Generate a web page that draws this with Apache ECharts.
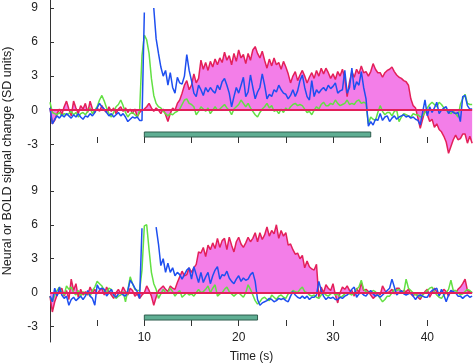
<!DOCTYPE html>
<html><head><meta charset="utf-8">
<script src="https://cdn.jsdelivr.net/npm/echarts@6/dist/echarts.min.js"></script>
<style>html,body{margin:0;padding:0;background:#fff}#c{width:475px;height:364px}</style>
</head><body><div id="c"></div>
<script>
// sampling step of the time series (s)
const step = 0.25;

// ---- top panel (long stimulus) ----
const topRed = [
 0.2,-1.2,-0.9,-0.3, 0.1,-0.4,0.3,0.8, 0.1,-0.5,0.8,0.2, -0.3,0.4,0.1,0.6, -0.2,0.8,0.1,-0.2, 0.2,-0.1,0.4,0.0, -0.2,0.3,-0.1,0.2, -0.3,0.1,0.3,-0.1, 0.2,-0.2,0.1,-0.3, 0.1,-0.6,-0.2,0.0,
 0.1,0.3,0.6,0.2, -0.1,0.2,0.0,-0.3, 0.1,-0.4,-1.0,-0.3, 0.2,0.0,0.6,0.9, 1.5,2.2,2.6,1.8, 2.2,3.2,2.4,2.8, 4.4,3.6,4.2,3.5, 4.3,3.8,4.5,4.0, 4.6,4.2,5.1,4.4, 4.8,4.0,5.0,4.3,
 5.3,4.6,4.9,4.1, 5.0,4.4,5.3,5.6, 5.0,4.6,5.2,4.4, 3.7,4.5,3.9,4.6, 4.0,4.2,3.6,4.3, 3.8,3.2,2.4,3.0, 3.4,2.6,3.1,3.5, 3.0,2.4,2.9,3.3, 2.8,3.5,3.0,3.7, 3.2,3.7,3.3,2.8,
 3.2,2.7,3.4,3.0, 3.6,2.8,1.2,2.5, 3.4,2.9,3.6,3.2, 3.9,3.3,3.4,3.0, 3.4,4.1,3.6,3.3, 3.3,2.9,3.3,3.5, 3.6,3.8,3.4,3.1, 2.9,2.8,2.6,2.5, 2.2,1.0,0.4,0.2, -0.7,-1.6,-0.8,0.0,
 -0.4,-1.0,-0.8,-1.5, -1.2,-1.7,-1.9,-2.3, -2.8,-3.8,-3.2,-2.6, -2.2,-2.6,-2.5,-2.1, -2.1,-2.9,-2.3,-2.9
];
const topBlue = [
 0.2,-1.2,-0.8,-0.5, -0.7,-0.4,-0.6,-0.3, -0.5,-0.7,-0.4,-0.6, -0.3,-0.6,-0.8,-0.5, -0.6,-0.3,-0.5,-0.2, 0.2,0.6,0.3,0.1, -0.2,-0.5,-0.3,-0.6, -0.4,-0.2,-0.5,-0.3, -0.6,-1.0,-0.8,-0.6, -0.7,-0.6,-0.9,-0.9,
 8.6,null,null,null, 9.0,6.3,5.0,3.8, 3.0,3.5,2.2,3.3, 2.0,1.5,2.9,2.4, 2.3,3.0,4.9,3.5, 2.6,1.5,1.2,2.2, 1.8,1.3,2.0,1.6, 2.0,1.7,1.5,2.2, 1.8,2.5,2.8,2.2, 1.5,0.3,1.2,2.0,
 1.5,2.2,2.9,1.2, 1.6,3.1,2.0,1.0, 1.6,2.0,3.2,2.2, 1.0,1.4,1.2,1.8, 1.6,2.2,1.8,1.5, 1.4,1.0,1.3,1.8, 1.2,1.7,2.6,3.1, 2.0,1.2,0.9,2.6, 1.2,1.8,1.5,1.8, 2.0,1.7,2.2,1.9,
 2.1,2.4,1.5,1.7, 1.8,3.5,1.5,2.0, 3.7,1.8,2.5,2.2, 3.4,2.0,1.0,-1.4, -1.0,-1.3,-0.8,-0.9, -0.3,-0.9,-0.6,-0.5, -1.0,-0.7,-0.5,-0.8, -0.6,-0.5,-0.4,-0.6, -0.5,-0.7,-0.6,-0.8, -0.9,-1.3,-0.2,0.9,
 -0.5,0.3,-0.2,0.2, 0.7,-0.3,0.0,0.2, 0.3,-0.3,0.0,-0.2, -0.3,-0.2,-1.0,1.2, 1.3,0.4,0.1,0.1
];
const topGreen = [
 0.7,-0.2,-0.3,-0.4, -0.2,-0.5,-0.3,-0.4, -0.3,-0.1,-0.4,-0.2, -0.6,-0.3,-0.2,-0.4, -0.1,0.2,-0.3,0.0, 0.3,0.9,1.3,0.8, 0.2,-0.3,-0.6,-0.2, 0.3,0.5,0.9,0.4, -0.2,-0.6,-0.3,-0.2, -0.4,-0.6,0.0,4.8,
 6.6,6.2,5.0,2.8, 1.3,0.6,0.3,0.2, -0.1,-0.3,-0.5,-0.3, -0.4,-0.2,-0.1,0.1, 0.5,0.9,1.0,0.6, 0.5,0.3,-0.4,-0.1, 0.3,0.1,-0.1,0.2, -0.3,0.0,0.3,0.0, 0.1,0.3,0.5,0.2, 0.0,-0.4,0.1,0.3,
 0.5,0.9,0.6,0.3, 0.6,0.2,-0.1,-0.4, -0.6,-0.2,0.1,0.3, 0.6,0.2,0.4,-0.1, 0.0,-0.3,0.1,-0.2, 0.2,0.0,0.3,0.5, 0.6,0.4,0.5,0.4, 0.1,-0.2,-0.1,-0.4, 0.0,0.3,0.1,0.5, 0.7,0.4,0.4,0.6,
 0.5,0.9,0.6,0.4, 0.5,0.6,0.9,0.5, 0.6,0.5,0.8,0.9, 0.6,0.7,0.6,-1.2, -0.6,-0.8,-0.9,-0.2, 0.4,-0.1,-0.4,-0.2, -0.2,-0.5,-0.1,0.0, -1.0,-0.6,-0.3,-0.4, -0.5,-0.6,-0.3,-0.4, -0.4,-0.6,-0.5,-0.2,
 0.2,0.5,0.7,0.5, 0.3,0.7,0.5,0.2, 0.0,-0.2,-0.3,-0.1, -0.3,-0.6,0.5,1.0, 1.4,0.6,0.5,0.5
];

// ---- bottom panel (short stimulus) ----
const botRed = [
 -0.3,-1.7,-0.8,-0.2, 0.1,0.4,-0.3,0.2, -0.6,1.2,0.2,0.8, -0.4,0.3,-0.2,0.1, -0.2,0.5,0.0,0.3, -0.1,0.2,0.4,-0.2, 0.5,0.1,-0.2,-0.5, 0.0,0.3,-0.1,0.5, 0.1,-0.2,0.4,0.2, -0.3,-0.1,-0.5,-0.2,
 0.0,0.6,0.2,-0.3, -1.1,-0.4,0.2,0.4, 0.6,0.3,0.1,0.6, 0.4,0.3,0.9,1.4, 1.9,1.5,1.6,2.2, 1.8,2.2,2.5,3.6, 3.5,4.0,3.2,4.2, 3.8,4.4,3.9,4.8, 4.0,4.6,4.8,3.8, 4.9,4.2,3.6,4.5,
 4.9,4.3,4.0,4.4, 4.9,4.5,4.8,5.3, 4.5,5.3,4.7,5.1, 5.8,5.0,5.5,5.2, 6.0,4.8,5.5,5.0, 5.3,4.2,4.3,3.8, 3.4,3.5,3.0,3.3, 2.2,2.8,2.3,2.1, 2.0,2.5,-0.5,0.5, 0.0,0.7,0.4,0.2,
 0.8,-0.2,-0.9,0.0, 0.5,0.3,0.6,0.2, 0.2,-0.3,0.4,0.0, 0.9,0.2,0.3,0.1, -0.2,-0.5,-0.3,0.0, -0.2,0.6,0.2,0.0, 0.1,0.3,-0.1,0.4, 0.4,0.0,0.2,0.1, 0.3,-0.1,-0.3,0.0, -0.4,-0.6,-0.2,0.1,
 0.3,-0.4,0.0,0.4, 0.1,-0.2,0.0,0.3, 0.1,-0.3,0.2,0.0, 0.0,0.3,0.5,0.8, 1.2,0.2,0.1,0.0
];
const botBlue = [
 -0.3,-0.8,0.4,-0.3, 0.5,-0.2,-0.5,-0.3, -1.1,-0.6,-0.4,-0.7, -0.5,-0.3,-0.6,-0.3, 0.2,-0.3,-0.5,-1.1, 0.7,0.3,0.4,0.3, -0.3,0.0,0.3,-0.2, -0.4,-0.1,0.0,-0.2, -0.3,0.2,1.1,0.8, 0.4,0.1,-0.5,5.7,
 null,null,null,null, null,5.8,4.3,2.4, 3.0,1.8,2.6,1.8, 2.2,1.5,1.8,1.6, 1.2,1.6,2.0,2.2, 1.2,2.3,1.6,0.9, 1.8,0.9,1.4,1.8, 0.8,1.5,2.0,2.3, 1.2,1.6,1.5,1.9, 1.3,1.0,0.8,1.2,
 1.5,1.0,1.3,1.1, 1.2,1.6,1.8,1.0, -0.6,-1.1,-0.9,-0.8, -0.7,-0.5,-0.6,-0.8, -0.7,-0.5,-0.6,-0.5, -0.7,-0.8,-0.3,0.1, -0.2,-0.4,-0.5,-0.3, -0.5,-0.3,-0.6,-0.4, -0.4,-0.2,1.0,0.2, -0.3,-0.6,-0.4,-0.5,
 -0.4,-0.6,-0.6,-0.4, -0.5,-0.3,-0.2,0.0, 0.3,0.5,-0.4,-0.1, 0.0,-0.2,-0.3,0.0, 0.2,-0.1,-0.3,-0.2, -0.4,-0.2,0.0,0.2, 0.4,1.2,0.5,-0.2, 0.0,0.2,-0.1,-0.2, -0.1,0.0,-0.3,-0.6, -0.3,-0.2,-0.3,-0.4,
 -0.4,0.0,0.2,0.3, 0.4,-0.3,0.3,-0.2, -0.8,-0.2,0.2,0.1, 0.0,-0.3,-0.3,-0.5, -0.3,-0.2,-0.4,-0.3
];
const botGreen = [
 -0.3,-0.8,-0.2,0.2, 0.5,0.0,-0.2,0.6, 0.3,0.5,0.0,-0.2, 0.2,-0.3,0.1,-0.2, 0.0,-0.3,0.2,0.5, 1.0,0.8,0.6,0.2, 0.0,0.4,0.3,-0.2, -0.5,-0.3,-0.2,0.1, -0.8,0.2,1.4,0.8, 0.3,0.2,0.2,2.0,
 5.9,6.0,3.8,1.8, 0.8,0.3,-0.5,-0.1, 0.3,0.0,0.0,0.4, 0.1,-0.3,0.0,0.2, -0.4,-0.2,0.0,-0.2, -0.1,-0.3,0.0,0.3, 0.0,0.1,0.3,0.6, 0.0,0.4,0.7,-0.3, -0.1,0.0,0.3,0.5, 0.1,-0.1,-0.3,-0.1,
 0.0,-0.2,-0.4,0.0, 0.7,0.3,-0.2,-0.7, -1.0,-0.8,-0.5,-0.4, -0.6,-0.7,-0.2,-0.4, -0.6,-0.3,-0.2,-0.4, -0.5,-0.1,0.0,0.2, 0.1,0.0,0.3,0.5, 0.1,0.0,-0.2,-0.3, -0.2,-0.4,-0.5,-0.2, 0.0,-0.2,-0.3,-0.1,
 0.0,-0.2,-0.1,-0.4, -0.3,-0.1,0.0,-0.1, -0.2,0.0,0.3,0.5, 1.1,0.3,0.1,0.0, 0.0,0.2,0.1,-0.2, -0.5,-0.8,-0.6,-0.3, -0.3,0.0,0.3,0.2, 0.3,0.1,0.0,1.2, 0.4,0.2,0.0,-0.2, -0.2,-0.4,-0.2,0.0,
 0.2,0.4,0.5,0.1, -0.2,-0.4,-0.5,-0.2, 0.0,0.3,1.1,0.2, 0.2,0.0,-0.2,-0.1, 0.1,0.3,0.2,0.0
];

// stimulus periods (s)
const topStim = [10, 34];
const botStim = [10, 22];

// ticks and labels
const yTickValues = [-3, 0, 3, 6, 9];
const xTickValues = [5, 10, 15, 20, 25, 30, 35, 40];
const xLabelValues = [10, 20, 30, 40];

const time = topRed.map((_, i) => i * step);
const tEnd = time[time.length - 1];

const C = {red:'#e3205a', fill:'#f37ee8', blue:'#1e4ff0', green:'#63e043',
           bar:'#5fae93', barEdge:'#2e5d4d', axis:'#333', text:'#222'};
const FONT = '"Liberation Sans", Arial, Helvetica, sans-serif';

function pairs(v) { return v.map((y, i) => [time[i], y]); }

// layout: [grid top, grid height, yMin, yMax, tick-axis offset, bar y range]
const panels = [
  {top:0,   height:167, min:-5.0,  max:9.7,  off:-30, barY:[-1.92,-2.36], stim:topStim, red:topRed, blue:topBlue, green:topGreen, labels:false},
  {top:167, height:175, min:-4.35, max:11.1, off:-22, barY:[-1.97,-2.41], stim:botStim, red:botRed, blue:botBlue, green:botGreen, labels:true}
];

const grid = [], xAxis = [], yAxis = [], series = [];
panels.forEach((p, k) => {
  grid.push({left:50, width:424.5, top:p.top, height:p.height, containLabel:false});
  xAxis.push({
    gridIndex:k, type:'value', min:0, max:45, position:'bottom', offset:p.off,
    axisLine:{show:false, onZero:false},
    axisTick:{show:true, customValues:xTickValues, length:6, inside:false, lineStyle:{color:C.axis, width:1}},
    axisLabel:{show:p.labels, customValues:xLabelValues, margin:12, fontSize:12, color:C.text, fontFamily:FONT},
    splitLine:{show:false}
  });
  yAxis.push({
    gridIndex:k, type:'value', min:p.min, max:p.max,
    axisLine:{show:true, onZero:false, lineStyle:{color:C.axis, width:1}},
    axisTick:{show:true, customValues:yTickValues, inside:true, length:4, lineStyle:{color:C.axis}},
    axisLabel:{show:true, customValues:yTickValues, margin:12, fontSize:12, color:C.text, fontFamily:FONT},
    splitLine:{show:false}
  });
  series.push({
    type:'line', xAxisIndex:k, yAxisIndex:k, data:pairs(p.red), showSymbol:false, z:2,
    lineStyle:{color:C.red, width:1.5}, itemStyle:{color:C.red},
    areaStyle:{color:C.fill, opacity:1, origin:0},
    markLine:{silent:true, symbol:'none', animation:false, label:{show:false},
      lineStyle:{color:C.red, width:2, type:'solid'},
      data:[[{coord:[0,0]},{coord:[tEnd,0]}]]},
    markArea:{silent:true, animation:false, label:{show:false},
      itemStyle:{color:C.bar, borderColor:C.barEdge, borderWidth:1},
      data:[[{xAxis:p.stim[0], yAxis:p.barY[0]},{xAxis:p.stim[1], yAxis:p.barY[1]}]]}
  });
  series.push({
    type:'line', xAxisIndex:k, yAxisIndex:k, data:pairs(p.green), showSymbol:false, z:3,
    lineStyle:{color:C.green, width:1.5}, itemStyle:{color:C.green}
  });
  series.push({
    type:'line', xAxisIndex:k, yAxisIndex:k, data:pairs(p.blue), showSymbol:false, z:4,
    connectNulls:false, lineStyle:{color:C.blue, width:1.5}, itemStyle:{color:C.blue}
  });
});

const chart = echarts.init(document.getElementById('c'), null, {renderer:'canvas'});
chart.setOption({
  animation:false,
  backgroundColor:'#fff',
  grid, xAxis, yAxis, series,
  graphic:[
    {type:'text', x:8, y:161, rotation:Math.PI/2,
     style:{text:'Neural or BOLD signal change (SD units)', fill:C.text, font:'12.5px ' + FONT, align:'center', verticalAlign:'middle'}},
    {type:'text', x:251.5, y:357,
     style:{text:'Time (s)', fill:C.text, font:'12px ' + FONT, align:'center', verticalAlign:'middle'}}
  ]
});
</script>
</body></html>
